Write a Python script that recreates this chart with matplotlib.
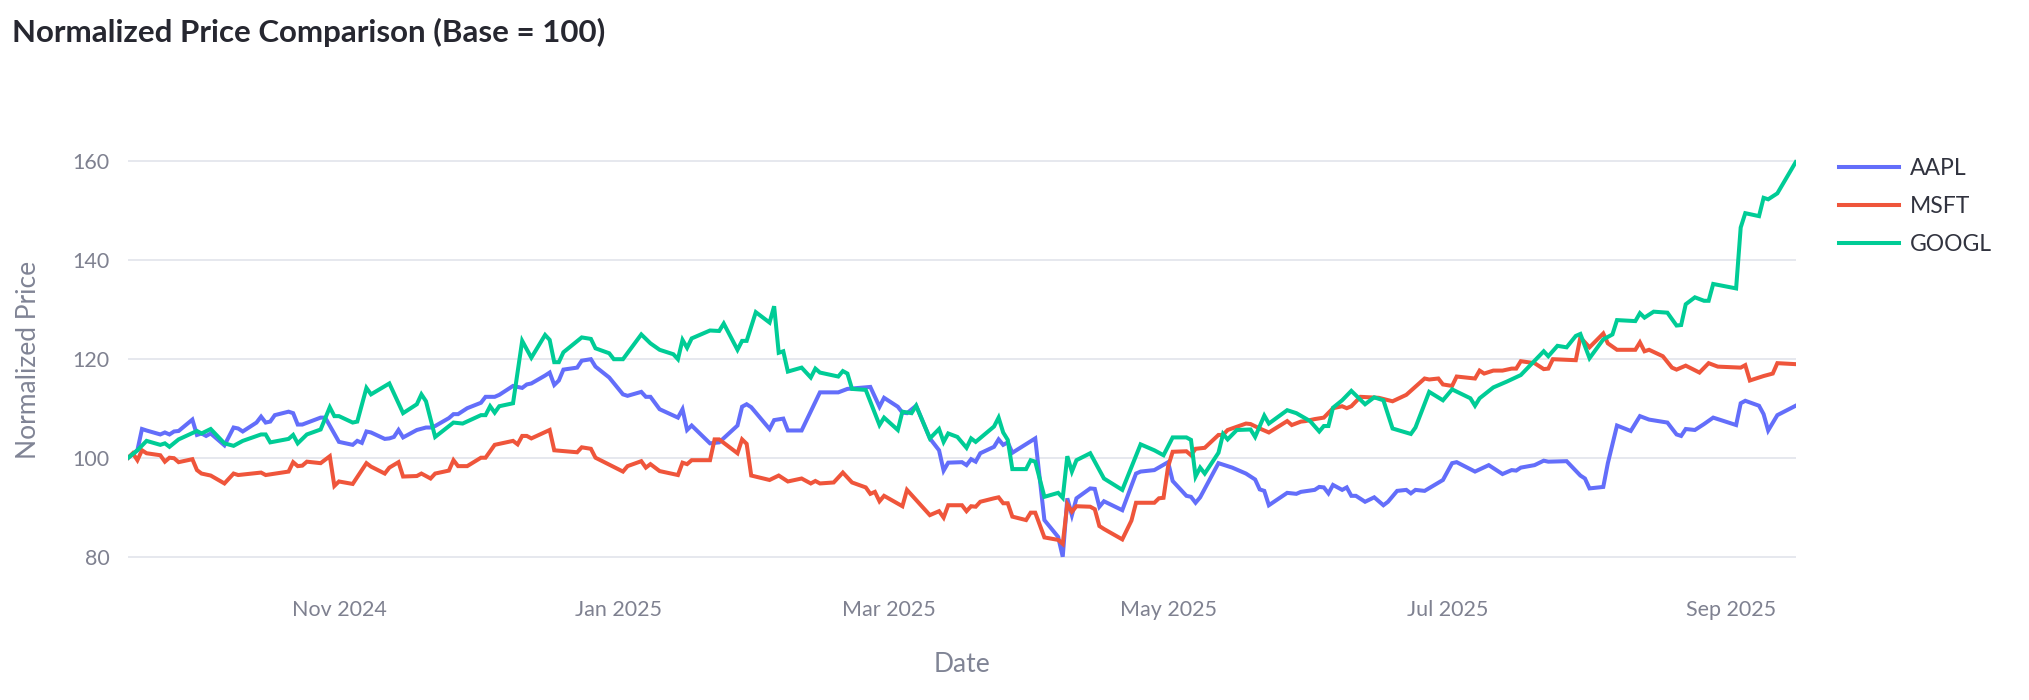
import pandas as pd
import matplotlib
matplotlib.use("Agg")
import matplotlib.pyplot as plt
import matplotlib.dates as mdates

plt.rcParams['font.family'] = ['Lato', 'DejaVu Sans']

start_date = pd.Timestamp('2024-09-16')

# days since start_date, normalized value
aapl_days = [0, 2, 3, 4, 7, 8, 9, 10, 11, 14, 15, 16, 17, 18, 21, 23, 24, 25, 28, 29,
             30, 31, 32, 35, 36, 37, 38, 42, 43, 46, 49, 50, 51, 52, 53, 56, 57, 58, 59, 60,
             63, 65, 66, 67, 70, 71, 72, 74, 77, 78, 80, 81, 84, 86, 87, 88, 91, 92, 93, 94,
             95, 98, 99, 101, 102, 105, 108, 109, 112, 113, 114, 116, 120, 121, 122, 123, 127, 129, 133, 134,
             135, 136, 140, 141, 143, 144, 147, 151, 155, 157, 162, 164, 165, 168, 169, 170, 172, 175, 177, 178,
             179, 182, 183, 184, 185, 186, 189, 190, 191, 192, 193, 198, 200, 203, 204, 205, 206, 207, 210, 211,
             212, 213, 217, 220, 221, 224, 227, 228, 231, 232, 233, 234, 238, 241, 244, 246, 247, 248, 249, 253,
             255, 256, 259, 260, 261, 262, 263, 265, 266, 267, 268, 270, 272, 274, 275, 277, 279, 280, 281, 283,
             287, 289, 290, 294, 297, 300, 302, 303, 304, 307, 309, 310, 314, 317, 318, 319, 322, 323, 325, 328,
             330, 332, 336, 338, 339, 340, 342, 344, 346, 351, 352, 353, 356, 357, 358, 360, 364]
aapl_values = [100.0, 101.5, 105.8, 105.5, 104.7, 105.1, 104.7, 105.3, 105.4, 107.7, 104.6, 104.9, 104.4, 104.9, 102.5, 106.1, 105.9, 105.3, 107.1, 108.3,
               107.1, 107.3, 108.6, 109.3, 109.0, 106.7, 106.7, 108.1, 108.1, 103.2, 102.6, 103.4, 103.0, 105.3, 105.1, 103.8, 103.9, 104.2, 105.6, 104.1,
               105.6, 106.1, 106.1, 106.4, 108.0, 108.8, 108.8, 110.0, 111.1, 112.3, 112.3, 112.7, 114.5, 114.1, 114.8, 115.0, 116.6, 117.2, 114.7, 115.6,
               117.8, 118.2, 119.6, 119.9, 118.4, 116.2, 112.8, 112.5, 113.3, 112.3, 112.3, 109.8, 108.1, 109.8, 105.6, 106.5, 102.9, 103.1, 106.5, 110.3,
               110.8, 110.2, 105.8, 107.6, 107.9, 105.5, 105.5, 113.2, 113.2, 113.9, 114.3, 110.3, 112.1, 110.3, 109.1, 109.0, 110.5, 103.9, 101.5, 97.4,
               99.0, 99.1, 98.5, 99.7, 99.2, 100.9, 102.2, 103.7, 102.6, 103.1, 101.0, 103.9, 87.4, 84.0, 80.0, 91.8, 88.4, 91.8, 93.8, 93.7,
               90.1, 91.2, 89.4, 96.8, 97.2, 97.5, 99.1, 95.3, 92.3, 92.1, 90.9, 92.0, 98.9, 98.0, 96.8, 95.6, 93.6, 93.3, 90.4, 92.9,
               92.7, 93.1, 93.5, 94.1, 94.0, 92.8, 94.5, 93.5, 94.0, 92.3, 92.3, 91.1, 92.0, 90.4, 91.1, 93.3, 93.5, 92.8, 93.5, 93.3,
               95.5, 98.9, 99.1, 97.2, 98.5, 96.7, 97.5, 97.4, 98.0, 98.5, 99.4, 99.2, 99.3, 96.4, 95.8, 93.8, 94.1, 98.9, 106.5, 105.4,
               108.4, 107.7, 107.1, 104.7, 104.4, 105.8, 105.6, 106.8, 108.1, 106.6, 111.0, 111.5, 110.5, 108.8, 105.5, 108.6, 110.5]

msft_days = [0, 1, 2, 3, 4, 7, 8, 9, 10, 11, 14, 15, 16, 18, 21, 23, 24, 29, 30, 35,
             36, 37, 38, 39, 42, 44, 45, 46, 49, 52, 53, 56, 57, 59, 60, 63, 64, 66, 67, 70,
             71, 72, 74, 77, 78, 80, 84, 85, 86, 87, 88, 92, 93, 98, 99, 101, 102, 108, 109, 112,
             113, 114, 116, 120, 121, 122, 123, 127, 128, 129, 133, 134, 135, 136, 140, 142, 144, 147, 149, 150,
             151, 154, 156, 158, 161, 162, 163, 164, 165, 169, 170, 175, 177, 178, 179, 182, 183, 184, 185, 186,
             189, 190, 191, 192, 193, 196, 197, 198, 200, 203, 204, 205, 206, 207, 210, 211, 212, 213, 217, 219,
             220, 224, 225, 226, 227, 228, 231, 232, 233, 235, 238, 239, 240, 244, 245, 247, 249, 253, 254, 256,
             257, 259, 261, 263, 265, 266, 267, 269, 273, 276, 279, 283, 284, 286, 287, 289, 290, 294, 295, 296,
             298, 300, 302, 303, 304, 307, 309, 310, 311, 316, 317, 319, 322, 323, 325, 329, 330, 331, 332, 335,
             337, 338, 340, 343, 345, 347, 352, 353, 354, 357, 359, 360, 364]
msft_values = [100.0, 100.9, 99.5, 101.5, 100.9, 100.5, 99.2, 100.0, 99.9, 99.1, 99.7, 97.5, 96.8, 96.4, 94.8, 96.8, 96.5, 97.0, 96.5, 97.2,
               99.1, 98.3, 98.4, 99.2, 98.9, 100.3, 94.3, 95.2, 94.7, 98.9, 98.2, 96.8, 98.0, 99.1, 96.2, 96.3, 96.8, 95.8, 96.8, 97.4,
               99.5, 98.3, 98.3, 100.0, 100.0, 102.6, 103.4, 102.7, 104.4, 104.4, 103.9, 105.6, 101.5, 101.1, 102.1, 101.8, 100.0, 97.2, 98.3, 99.3,
               98.0, 98.7, 97.3, 96.5, 99.0, 98.7, 99.5, 99.5, 103.7, 103.7, 100.9, 103.7, 102.8, 96.4, 95.5, 96.4, 95.2, 95.8, 94.8, 95.3,
               94.8, 95.0, 97.0, 95.0, 94.0, 92.7, 93.1, 91.2, 92.3, 90.2, 93.5, 88.4, 89.2, 87.9, 90.4, 90.4, 89.2, 90.2, 90.1, 91.1,
               91.8, 92.0, 90.8, 90.8, 88.1, 87.4, 88.9, 88.9, 83.9, 83.4, 82.6, 90.6, 89.1, 90.2, 90.1, 89.6, 86.2, 85.6, 83.5, 87.3,
               90.9, 90.9, 91.8, 91.9, 98.2, 101.2, 101.3, 100.5, 101.8, 102.0, 104.6, 104.6, 105.6, 106.9, 106.8, 105.9, 105.1, 107.4, 106.6, 107.3,
               107.4, 107.8, 108.1, 110.0, 110.4, 110.0, 110.4, 112.3, 112.1, 111.4, 112.7, 116.0, 115.8, 116.0, 114.8, 114.5, 116.4, 116.0, 117.6, 117.0,
               117.6, 117.6, 118.0, 118.0, 119.5, 119.1, 117.9, 118.0, 119.9, 119.7, 124.3, 122.3, 125.1, 123.1, 121.8, 121.8, 123.3, 121.5, 121.8, 120.5,
               118.2, 117.8, 118.6, 117.2, 119.1, 118.4, 118.2, 118.7, 115.6, 116.5, 117.0, 119.1, 118.9]

googl_days = [0, 2, 4, 7, 8, 9, 11, 15, 16, 18, 21, 23, 25, 29, 30, 31, 35, 36, 37, 39,
              42, 44, 45, 46, 49, 50, 52, 53, 57, 60, 63, 64, 65, 67, 71, 73, 77, 78, 79, 80,
              81, 84, 86, 88, 91, 92, 93, 94, 95, 99, 101, 102, 105, 106, 108, 112, 114, 116, 119, 120,
              121, 122, 123, 127, 129, 130, 133, 134, 135, 137, 140, 141, 142, 143, 144, 147, 149, 150, 151, 155,
              156, 157, 158, 161, 164, 165, 168, 169, 171, 172, 175, 177, 178, 179, 181, 183, 184, 185, 189, 190,
              191, 192, 193, 196, 197, 198, 200, 203, 204, 205, 206, 207, 210, 213, 217, 221, 224, 226, 228, 231,
              232, 233, 234, 235, 238, 239, 240, 242, 245, 246, 248, 249, 253, 255, 258, 260, 261, 262, 263, 265,
              267, 270, 272, 274, 276, 280, 281, 284, 287, 289, 293, 294, 295, 298, 301, 304, 309, 310, 312, 314,
              316, 317, 319, 322, 324, 325, 329, 330, 331, 333, 336, 338, 339, 340, 342, 344, 345, 346, 351, 352,
              353, 356, 357, 358, 360, 364]
googl_values = [100.0, 101.5, 103.4, 102.6, 102.9, 102.2, 103.7, 105.4, 104.9, 105.8, 102.9, 102.4, 103.4, 104.7, 104.7, 103.1, 103.8, 104.6, 102.9, 104.7,
                105.7, 110.2, 108.4, 108.4, 107.1, 107.3, 114.1, 112.8, 115.0, 109.0, 110.8, 112.8, 111.4, 104.2, 107.1, 106.9, 108.6, 108.6, 110.4, 109.1,
                110.4, 111.0, 123.6, 120.2, 124.8, 123.8, 119.3, 119.3, 121.3, 124.3, 124.0, 122.1, 121.1, 119.9, 119.9, 124.9, 123.1, 121.8, 120.9, 119.9,
                123.8, 122.2, 124.1, 125.7, 125.6, 127.1, 121.8, 123.6, 123.6, 129.4, 127.3, 130.6, 121.2, 121.5, 117.4, 118.2, 116.2, 118.0, 117.2, 116.4,
                117.5, 117.0, 113.9, 113.7, 106.6, 108.1, 105.6, 109.3, 109.0, 110.5, 103.9, 105.8, 103.2, 104.9, 104.2, 102.0, 103.9, 103.2, 106.3, 108.1,
                105.1, 103.6, 97.7, 97.7, 99.5, 99.2, 92.1, 92.9, 91.9, 100.3, 97.2, 99.5, 100.9, 95.8, 93.5, 102.7, 101.5, 100.5, 104.1, 104.1,
                103.6, 96.2, 98.0, 96.8, 101.0, 104.8, 103.7, 105.6, 105.7, 104.2, 108.5, 106.9, 109.6, 109.0, 107.4, 105.3, 106.4, 106.4, 110.1, 111.6,
                113.5, 110.8, 112.2, 111.6, 105.9, 104.8, 106.1, 113.3, 111.6, 113.8, 112.0, 110.5, 112.0, 114.2, 115.4, 116.7, 121.5, 120.5, 122.6, 122.3,
                124.6, 125.0, 120.1, 123.9, 124.9, 127.8, 127.6, 129.2, 128.3, 129.5, 129.3, 126.7, 126.8, 131.0, 132.4, 131.7, 131.7, 135.1, 134.2, 146.5,
                149.4, 148.8, 152.5, 152.2, 153.4, 159.7]

tickers = ['AAPL', 'MSFT', 'GOOGL']
colors = ['#636EFA', '#EF553B', '#00CC96']
series = [(aapl_days, aapl_values), (msft_days, msft_values), (googl_days, googl_values)]

fig = plt.figure(figsize=(20.29, 7), dpi=100)
ax = fig.add_axes([0.0632, 0.1764, 0.8218, 0.6202])

for name, color, (days, values) in zip(tickers, colors, series):
    dates = start_date + pd.to_timedelta(days, unit='D')
    ax.plot(dates, values, color=color, lw=2.9, label=name, solid_joinstyle='miter')

ax.set_xlim(start_date, start_date + pd.Timedelta(days=364))
ax.set_ylim(76.0, 163.7)
ax.set_yticks([80, 100, 120, 140, 160])
ax.xaxis.set_major_locator(mdates.MonthLocator(bymonth=[1, 3, 5, 7, 9, 11]))
ax.xaxis.set_major_formatter(mdates.DateFormatter('%b %Y'))

ax.grid(axis='y', color='#e6e8ee', lw=1.4)
ax.set_axisbelow(True)
for s in ax.spines.values():
    s.set_visible(False)
ax.tick_params(axis='both', length=0, labelsize=15.5, colors='#7f8190')
ax.tick_params(axis='y', pad=13.5)
ax.tick_params(axis='x', pad=17)

ax.set_xlabel('Date', fontsize=19, color='#808495', va='center')
ax.xaxis.set_label_coords(0.5, -0.2016)
ax.set_ylabel('Normalized Price', fontsize=19, color='#808495', va='center')
ax.yaxis.set_label_coords(-0.060, 0.5)

fig.text(12 / 2029, 1 - 32 / 700, 'Normalized Price Comparison (Base = 100)',
         fontsize=22.5, weight='bold', color='#262730', ha='left', va='center')

leg = fig.legend(loc='upper left', bbox_to_anchor=(1839 / 2029, 1 - 158 / 700),
                 frameon=False, fontsize=16.5, handlelength=2.6, handletextpad=0.48,
                 labelspacing=0.74, borderpad=0, borderaxespad=0)
for t in leg.get_texts():
    t.set_color('#31333f')

fig.savefig('out.png', dpi=100)
